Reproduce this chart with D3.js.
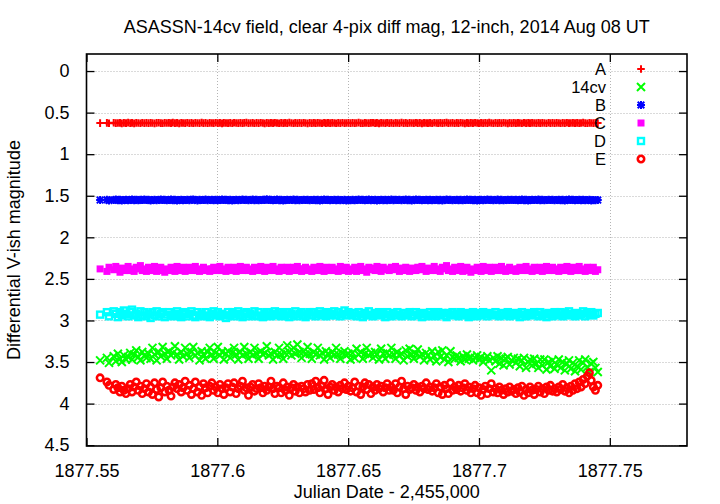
<!DOCTYPE html>
<html><head><meta charset="utf-8">
<script src="https://cdn.jsdelivr.net/npm/d3@7"></script>
<style>body{margin:0;background:#fff}svg{display:block}text{font-family:"Liberation Sans",Arial,sans-serif;fill:#000}</style>
</head><body><svg id="c" width="720" height="504"></svg>
<script>
const titleText = "ASASSN-14cv field, clear 4-pix diff mag, 12-inch, 2014 Aug 08 UT";
const xLabel = "Julian Date - 2,455,000";
const yLabel = "Differential V-ish magnitude";
const xTicks = [1877.55, 1877.6, 1877.65, 1877.7, 1877.75];
const xTickLabels = ["1877.55", "1877.6", "1877.65", "1877.7", "1877.75"];
const yTicks = [0, 0.5, 1, 1.5, 2, 2.5, 3, 3.5, 4, 4.5];
const yTickLabels = ["0", "0.5", "1", "1.5", "2", "2.5", "3", "3.5", "4", "4.5"];
const seriesNames = ["A", "14cv", "B", "C", "D", "E"];

const jd = [
1877.5552,1877.5578,1877.5586,1877.5604,1877.5612,1877.5620,1877.5628,1877.5635,1877.5643,1877.5651,
1877.5659,1877.5667,1877.5674,1877.5682,1877.5690,1877.5698,1877.5706,1877.5713,1877.5721,1877.5729,
1877.5737,1877.5745,1877.5752,1877.5760,1877.5768,1877.5776,1877.5784,1877.5791,1877.5799,1877.5807,
1877.5815,1877.5823,1877.5830,1877.5838,1877.5846,1877.5854,1877.5862,1877.5869,1877.5877,1877.5885,
1877.5893,1877.5901,1877.5908,1877.5916,1877.5924,1877.5932,1877.5940,1877.5947,1877.5955,1877.5963,
1877.5971,1877.5979,1877.5986,1877.5994,1877.6002,1877.6010,1877.6018,1877.6025,1877.6033,1877.6041,
1877.6049,1877.6057,1877.6064,1877.6072,1877.6080,1877.6088,1877.6096,1877.6103,1877.6111,1877.6119,
1877.6127,1877.6135,1877.6142,1877.6150,1877.6158,1877.6166,1877.6174,1877.6181,1877.6189,1877.6197,
1877.6205,1877.6213,1877.6220,1877.6228,1877.6236,1877.6244,1877.6252,1877.6259,1877.6267,1877.6275,
1877.6283,1877.6291,1877.6298,1877.6306,1877.6314,1877.6322,1877.6330,1877.6337,1877.6345,1877.6353,
1877.6361,1877.6369,1877.6376,1877.6384,1877.6392,1877.6400,1877.6408,1877.6415,1877.6423,1877.6431,
1877.6439,1877.6447,1877.6454,1877.6462,1877.6470,1877.6478,1877.6486,1877.6493,1877.6501,1877.6509,
1877.6517,1877.6525,1877.6532,1877.6540,1877.6548,1877.6556,1877.6564,1877.6571,1877.6579,1877.6587,
1877.6595,1877.6603,1877.6610,1877.6618,1877.6626,1877.6634,1877.6642,1877.6649,1877.6657,1877.6665,
1877.6673,1877.6681,1877.6688,1877.6696,1877.6704,1877.6712,1877.6720,1877.6727,1877.6735,1877.6743,
1877.6751,1877.6759,1877.6766,1877.6774,1877.6782,1877.6790,1877.6798,1877.6805,1877.6813,1877.6821,
1877.6829,1877.6837,1877.6844,1877.6852,1877.6860,1877.6868,1877.6876,1877.6883,1877.6891,1877.6899,
1877.6907,1877.6915,1877.6922,1877.6930,1877.6938,1877.6946,1877.6954,1877.6961,1877.6969,1877.6977,
1877.6985,1877.6993,1877.7000,1877.7008,1877.7016,1877.7024,1877.7032,1877.7039,1877.7047,1877.7055,
1877.7063,1877.7071,1877.7078,1877.7086,1877.7094,1877.7102,1877.7110,1877.7117,1877.7125,1877.7133,
1877.7141,1877.7149,1877.7156,1877.7164,1877.7172,1877.7180,1877.7188,1877.7195,1877.7203,1877.7211,
1877.7219,1877.7227,1877.7234,1877.7242,1877.7250,1877.7258,1877.7266,1877.7273,1877.7281,1877.7289,
1877.7297,1877.7305,1877.7312,1877.7320,1877.7328,1877.7336,1877.7344,1877.7351,1877.7359,1877.7367,
1877.7375,1877.7383,1877.7390,1877.7398,1877.7406,1877.7414,1877.7422,1877.7429,1877.7437,1877.7445,
1877.7454];

const magA = [
.626,.624,.628,.622,.627,.625,.623,.629,.624,.626,
.621,.627,.624,.630,.623,.625,.628,.622,.626,.624,
.627,.623,.625,.629,.624,.622,.626,.628,.623,.625,
.624,.627,.621,.626,.624,.629,.623,.625,.627,.622,
.626,.624,.628,.623,.625,.627,.621,.626,.624,.628,
.623,.625,.627,.622,.626,.624,.629,.623,.625,.626,
.624,.628,.622,.625,.627,.623,.626,.624,.621,.627,
.625,.623,.628,.624,.626,.622,.625,.629,.623,.626,
.624,.627,.622,.625,.628,.623,.626,.624,.627,.621,
.625,.628,.623,.626,.624,.627,.622,.625,.629,.624,
.626,.623,.627,.624,.625,.628,.622,.626,.624,.627,
.623,.625,.628,.624,.626,.622,.627,.625,.623,.626,
.624,.627,.625,.621,.626,.628,.623,.625,.627,.624,
.622,.626,.624,.629,.623,.625,.627,.622,.626,.624,
.628,.623,.625,.627,.621,.626,.624,.628,.623,.625,
.627,.622,.626,.624,.629,.623,.625,.626,.624,.628,
.622,.625,.627,.623,.626,.624,.621,.627,.625,.623,
.628,.624,.626,.622,.625,.629,.623,.626,.624,.627,
.622,.625,.628,.623,.626,.624,.627,.621,.625,.628,
.623,.626,.624,.627,.622,.625,.629,.624,.626,.623,
.627,.624,.625,.628,.622,.626,.624,.627,.623,.625,
.626,.623,.627,.624,.625,.628,.622,.626,.624,.627,
.623,.625,.628,.624,.626,.622,.627,.625,.623,.626,
.624,.627,.625,.621,.626,.628,.623,.625,.627,.624,
.626];

const mag14cv = [
3.48,3.45,3.51,3.43,3.49,3.40,3.46,3.50,3.42,3.47,
3.44,3.39,3.47,3.41,3.36,3.44,3.48,3.38,3.42,3.45,
3.40,3.46,3.33,3.41,3.48,3.38,3.43,3.32,3.40,3.46,
3.37,3.42,3.39,3.31,3.41,3.47,3.38,3.43,3.33,3.40,
3.45,3.38,3.32,3.42,3.39,3.48,3.37,3.41,3.46,3.38,
3.33,3.41,3.46,3.39,3.32,3.42,3.38,3.47,3.40,3.37,
3.45,3.39,3.33,3.41,3.47,3.38,3.42,3.32,3.40,3.46,
3.38,3.42,3.33,3.40,3.46,3.37,3.41,3.39,3.31,3.42,
3.40,3.47,3.38,3.42,3.33,3.41,3.46,3.39,3.30,3.38,
3.42,3.33,3.40,3.29,3.38,3.45,3.37,3.41,3.32,3.40,
3.46,3.38,3.41,3.33,3.42,3.39,3.47,3.37,3.40,3.45,
3.38,3.42,3.33,3.41,3.46,3.39,3.37,3.42,3.40,3.47,
3.39,3.45,3.34,3.41,3.38,3.46,3.40,3.33,3.42,3.39,
3.45,3.38,3.41,3.47,3.34,3.40,3.46,3.39,3.42,3.33,
3.41,3.46,3.38,3.42,3.40,3.48,3.36,3.43,3.34,3.41,
3.46,3.40,3.35,3.43,3.41,3.48,3.39,3.42,3.47,3.37,
3.43,3.49,3.38,3.44,3.36,3.47,3.42,3.50,3.37,3.44,
3.46,3.42,3.45,3.49,3.43,3.47,3.41,3.46,3.44,3.48,
3.45,3.42,3.47,3.44,3.50,3.46,3.43,3.48,3.60,3.45,
3.49,3.43,3.52,3.45,3.54,3.46,3.44,3.53,3.48,3.45,
3.51,3.46,3.55,3.48,3.45,3.57,3.50,3.47,3.54,3.46,
3.52,3.57,3.47,3.54,3.47,3.59,3.50,3.55,3.48,3.58,
3.53,3.47,3.57,3.50,3.60,3.52,3.48,3.58,3.51,3.61,
3.55,3.48,3.59,3.51,3.47,3.56,3.62,3.52,3.50,3.57,
3.62];

const magB = [
1.552,1.548,1.556,1.550,1.545,1.553,1.549,1.557,1.551,1.547,
1.554,1.550,1.546,1.553,1.549,1.555,1.548,1.552,1.544,1.551,
1.549,1.556,1.550,1.547,1.553,1.551,1.545,1.552,1.548,1.555,
1.551,1.546,1.553,1.549,1.557,1.550,1.547,1.554,1.552,1.548,
1.553,1.549,1.545,1.551,1.556,1.548,1.552,1.550,1.546,1.554,
1.550,1.547,1.553,1.549,1.555,1.551,1.544,1.552,1.548,1.553,
1.549,1.556,1.551,1.547,1.553,1.550,1.545,1.552,1.548,1.554,
1.551,1.546,1.553,1.549,1.555,1.550,1.547,1.552,1.543,1.550,
1.548,1.554,1.550,1.546,1.553,1.549,1.556,1.551,1.547,1.552,
1.550,1.545,1.553,1.549,1.555,1.551,1.547,1.552,1.548,1.554,
1.551,1.547,1.553,1.549,1.556,1.550,1.546,1.552,1.548,1.554,
1.550,1.547,1.553,1.549,1.555,1.551,1.548,1.556,1.550,1.553,
1.549,1.555,1.552,1.546,1.551,1.548,1.554,1.550,1.545,1.553,
1.551,1.548,1.556,1.550,1.547,1.553,1.549,1.555,1.551,1.546,
1.553,1.549,1.552,1.547,1.555,1.550,1.546,1.553,1.549,1.556,
1.550,1.545,1.552,1.548,1.554,1.551,1.547,1.553,1.549,1.555,
1.551,1.547,1.553,1.549,1.556,1.550,1.546,1.552,1.548,1.554,
1.550,1.547,1.553,1.549,1.555,1.551,1.544,1.552,1.548,1.553,
1.549,1.556,1.551,1.547,1.553,1.550,1.545,1.552,1.548,1.554,
1.551,1.546,1.553,1.549,1.555,1.550,1.547,1.552,1.548,1.550,
1.548,1.554,1.550,1.546,1.553,1.549,1.556,1.551,1.547,1.552,
1.550,1.545,1.553,1.549,1.555,1.551,1.547,1.552,1.548,1.554,
1.551,1.547,1.553,1.549,1.556,1.550,1.546,1.552,1.548,1.554,
1.550,1.547,1.553,1.549,1.555,1.551,1.548,1.556,1.550,1.553,
1.552];

const magC = [
2.38,2.41,2.36,2.39,2.35,2.38,2.42,2.37,2.40,2.38,
2.35,2.40,2.38,2.41,2.36,2.38,2.34,2.40,2.38,2.41,
2.36,2.40,2.38,2.35,2.41,2.38,2.36,2.40,2.42,2.38,
2.40,2.36,2.38,2.41,2.35,2.38,2.40,2.36,2.41,2.38,
2.36,2.40,2.38,2.35,2.40,2.41,2.38,2.36,2.40,2.38,
2.41,2.38,2.36,2.40,2.38,2.35,2.40,2.38,2.41,2.36,
2.38,2.40,2.36,2.41,2.38,2.35,2.40,2.38,2.36,2.40,
2.38,2.41,2.36,2.38,2.40,2.35,2.38,2.41,2.36,2.40,
2.38,2.35,2.40,2.38,2.41,2.36,2.38,2.40,2.36,2.41,
2.38,2.36,2.40,2.35,2.38,2.41,2.38,2.36,2.40,2.38,
2.41,2.36,2.38,2.40,2.35,2.38,2.41,2.36,2.40,2.38,
2.36,2.40,2.38,2.41,2.35,2.38,2.40,2.36,2.41,2.38,
2.40,2.36,2.41,2.38,2.35,2.40,2.38,2.42,2.36,2.39,
2.37,2.40,2.35,2.38,2.41,2.36,2.39,2.38,2.40,2.36,
2.39,2.35,2.38,2.41,2.37,2.40,2.36,2.38,2.41,2.37,
2.38,2.40,2.36,2.39,2.35,2.38,2.41,2.37,2.40,2.38,
2.35,2.40,2.38,2.41,2.36,2.38,2.34,2.40,2.38,2.41,
2.36,2.40,2.38,2.35,2.41,2.38,2.36,2.40,2.42,2.38,
2.40,2.36,2.38,2.41,2.35,2.38,2.40,2.36,2.41,2.38,
2.36,2.40,2.38,2.35,2.40,2.41,2.38,2.36,2.40,2.38,
2.41,2.38,2.36,2.40,2.38,2.35,2.40,2.38,2.41,2.36,
2.38,2.40,2.36,2.41,2.38,2.35,2.40,2.38,2.36,2.40,
2.38,2.41,2.36,2.38,2.40,2.35,2.38,2.41,2.36,2.40,
2.38,2.35,2.40,2.38,2.41,2.36,2.38,2.40,2.36,2.41,
2.39];

const magD = [
2.93,2.90,2.95,2.89,2.92,2.96,2.90,2.94,2.88,2.92,
2.95,2.90,2.87,2.94,2.92,2.96,2.89,2.94,2.90,2.95,
2.92,2.97,2.90,2.94,2.89,2.95,2.92,2.90,2.96,2.93,
2.90,2.94,2.95,2.92,2.89,2.94,2.96,2.92,2.90,2.95,
2.92,2.89,2.94,2.96,2.90,2.94,2.92,2.95,2.90,2.94,
2.96,2.92,2.89,2.94,2.90,2.95,2.92,2.94,2.97,2.90,
2.94,2.90,2.95,2.92,2.89,2.94,2.96,2.92,2.90,2.95,
2.92,2.94,2.89,2.95,2.90,2.94,2.96,2.92,2.90,2.94,
2.95,2.92,2.89,2.94,2.90,2.95,2.92,2.94,2.90,2.96,
2.92,2.94,2.89,2.95,2.92,2.90,2.94,2.96,2.92,2.90,
2.94,2.90,2.95,2.92,2.89,2.94,2.92,2.95,2.90,2.94,
2.92,2.89,2.94,2.90,2.95,2.92,2.88,2.94,2.90,2.92,
2.94,2.91,2.95,2.90,2.93,2.96,2.91,2.94,2.89,2.93,
2.95,2.91,2.93,2.90,2.94,2.92,2.96,2.90,2.93,2.95,
2.91,2.94,2.90,2.93,2.95,2.91,2.94,2.92,2.90,2.95,
2.93,2.90,2.94,2.92,2.96,2.91,2.93,2.95,2.90,2.94,
2.92,2.95,2.90,2.93,2.91,2.94,2.96,2.91,2.93,2.90,
2.94,2.92,2.95,2.90,2.93,2.91,2.94,2.96,2.92,2.90,
2.93,2.95,2.91,2.94,2.90,2.92,2.95,2.91,2.93,2.94,
2.90,2.93,2.95,2.91,2.94,2.92,2.90,2.95,2.93,2.91,
2.94,2.92,2.96,2.90,2.93,2.95,2.91,2.94,2.92,2.90,
2.93,2.95,2.90,2.94,2.92,2.96,2.91,2.93,2.95,2.90,
2.92,2.94,2.90,2.95,2.91,2.93,2.89,2.94,2.92,2.95,
2.91,2.94,2.92,2.89,2.95,2.91,2.93,2.90,2.94,2.92,
2.91];

const magE = [
3.69,3.74,3.78,3.83,3.77,3.81,3.86,3.79,3.84,3.88,
3.82,3.77,3.86,3.80,3.74,3.84,3.79,3.88,3.82,3.76,
3.86,3.80,3.89,3.75,3.83,3.92,3.81,3.74,3.86,3.79,
3.84,3.91,3.80,3.75,3.82,3.77,3.86,3.81,3.73,3.84,
3.78,3.89,3.82,3.74,3.86,3.80,3.90,3.76,3.81,3.87,
3.79,3.75,3.84,3.80,3.87,3.77,3.82,3.89,3.81,3.76,
3.86,3.80,3.75,3.88,3.82,3.79,3.73,3.84,3.81,3.90,
3.80,3.77,3.85,3.82,3.76,3.81,3.87,3.79,3.84,3.80,
3.73,3.82,3.88,3.79,3.81,3.87,3.75,3.84,3.80,3.90,
3.81,3.77,3.85,3.80,3.87,3.79,3.82,3.86,3.77,3.84,
3.76,3.83,3.73,3.81,3.87,3.79,3.72,3.82,3.89,3.80,
3.77,3.84,3.80,3.86,3.78,3.82,3.75,3.83,3.79,3.85,
3.81,3.74,3.86,3.79,3.89,3.80,3.75,3.83,3.77,3.88,
3.80,3.84,3.77,3.82,3.79,3.86,3.81,3.76,3.84,3.80,
3.84,3.76,3.87,3.80,3.73,3.82,3.89,3.79,3.83,3.81,
3.77,3.84,3.80,3.86,3.79,3.82,3.75,3.83,3.80,3.85,
3.81,3.76,3.87,3.80,3.89,3.78,3.82,3.88,3.75,3.84,
3.80,3.83,3.78,3.85,3.81,3.76,3.84,3.80,3.87,3.82,
3.78,3.87,3.81,3.90,3.83,3.79,3.88,3.82,3.76,3.86,
3.82,3.87,3.80,3.84,3.89,3.82,3.86,3.80,3.85,3.83,
3.88,3.81,3.86,3.79,3.90,3.83,3.87,3.80,3.84,3.89,
3.83,3.79,3.86,3.82,3.88,3.80,3.84,3.78,3.85,3.82,
3.86,3.80,3.83,3.77,3.85,3.81,3.87,3.79,3.84,3.76,
3.82,3.74,3.80,3.71,3.76,3.67,3.63,3.72,3.80,3.84,
3.78];

const seriesValues = [magA, mag14cv, magB, magC, magD, magE];
const seriesColors = ["#ff0000", "#00ff00", "#0000ff", "#ff00ff", "#00ffff", "#ff0000"];
const seriesMarkers = ["plus", "cross", "star", "fbox", "obox", "ocircle"];

const L = 86.5, R = 687, T = 54, B = 446;
const svg = d3.select("#c");
const x = d3.scaleLinear().domain([1877.55, 1877.7795]).range([L, R]);
const y = d3.scaleLinear().domain([-0.205, 4.51]).range([T, B]);

const grid = svg.append("g").attr("stroke", "#b4b4b4").attr("stroke-width", 1).attr("stroke-dasharray", "1,2");
xTicks.slice(1).forEach(v => grid.append("line").attr("x1", Math.round(x(v)) + 0.5).attr("x2", Math.round(x(v)) + 0.5).attr("y1", T).attr("y2", B));
yTicks.forEach(v => grid.append("line").attr("x1", L).attr("x2", R).attr("y1", Math.round(y(v)) + 0.5).attr("y2", Math.round(y(v)) + 0.5));

const fs = 18;
const axL = svg.append("g").attr("transform", `translate(${L},0)`).call(d3.axisLeft(y).tickValues(yTicks).tickFormat((d, i) => yTickLabels[i]).tickSizeInner(-8).tickSizeOuter(0).tickPadding(17));
const axR = svg.append("g").attr("transform", `translate(${R},0)`).call(d3.axisRight(y).tickValues(yTicks).tickFormat("").tickSizeInner(-8).tickSizeOuter(0));
const axB = svg.append("g").attr("transform", `translate(0,${B})`).call(d3.axisBottom(x).tickValues(xTicks).tickFormat((d, i) => xTickLabels[i]).tickSizeInner(-8).tickSizeOuter(0).tickPadding(18));
const axT = svg.append("g").attr("transform", `translate(0,${T})`).call(d3.axisTop(x).tickValues(xTicks).tickFormat("").tickSizeInner(-8).tickSizeOuter(0));
[axL, axR, axB, axT].forEach(a => {
  a.select(".domain").remove();
  a.selectAll(".tick line").attr("stroke", "#000").attr("stroke-width", 1.3);
  a.selectAll("text").attr("font-size", fs).attr("font-family", "Liberation Sans, Arial, sans-serif").attr("fill", "#000");
});

svg.append("rect").attr("x", L).attr("y", T).attr("width", R - L).attr("height", B - T)
  .attr("fill", "none").attr("stroke", "#000").attr("stroke-width", 1.6);

function markerPath(type) {
  switch (type) {
    case "plus": return "M-3.8,0H3.8M0,-3.8V3.8";
    case "cross": return "M-4,-4L4,4M-4,4L4,-4";
    case "star": return "M-4,0H4M0,-4V4M-3.3,-3.3L3.3,3.3M-3.3,3.3L3.3,-3.3";
  }
  return null;
}
function drawMarker(g, type, color) {
  if (type === "fbox") {
    g.append("rect").attr("x", -3.5).attr("y", -3.5).attr("width", 7).attr("height", 7).attr("fill", color);
  } else if (type === "obox") {
    g.append("rect").attr("x", -3).attr("y", -3).attr("width", 6).attr("height", 6).attr("fill", "none").attr("stroke", color).attr("stroke-width", 2.4);
  } else if (type === "ocircle") {
    g.append("circle").attr("r", 3.2).attr("fill", "none").attr("stroke", color).attr("stroke-width", 2.6);
  } else {
    g.append("path").attr("d", markerPath(type)).attr("fill", "none").attr("stroke", color).attr("stroke-width", 2);
  }
}

const plot = svg.append("g");
seriesValues.forEach((vals, si) => {
  const g = plot.append("g");
  const n = Math.min(vals.length, jd.length);
  for (let i = 0; i < n; i++) {
    const m = g.append("g").attr("transform", `translate(${x(jd[i])},${y(vals[i])})`);
    drawMarker(m, seriesMarkers[si], seriesColors[si]);
  }
});

const legRowY = d3.scalePoint().domain(seriesNames).range([69, 159]);
seriesNames.forEach((name, i) => {
  const yy = legRowY(name);
  svg.append("text").attr("x", 606).attr("y", yy + 6).attr("text-anchor", "end").attr("font-size", 16.5).text(name);
  const m = svg.append("g").attr("transform", `translate(641,${yy})`);
  drawMarker(m, seriesMarkers[i], seriesColors[i]);
});

svg.append("text").attr("x", (L + R) / 2).attr("y", 33).attr("text-anchor", "middle").attr("font-size", fs).text(titleText);
svg.append("text").attr("x", (L + R) / 2).attr("y", 498).attr("text-anchor", "middle").attr("font-size", fs).text(xLabel);
svg.append("text").attr("transform", `translate(20,${(T + B) / 2}) rotate(-90)`).attr("text-anchor", "middle").attr("font-size", fs).text(yLabel);
</script></body></html>
